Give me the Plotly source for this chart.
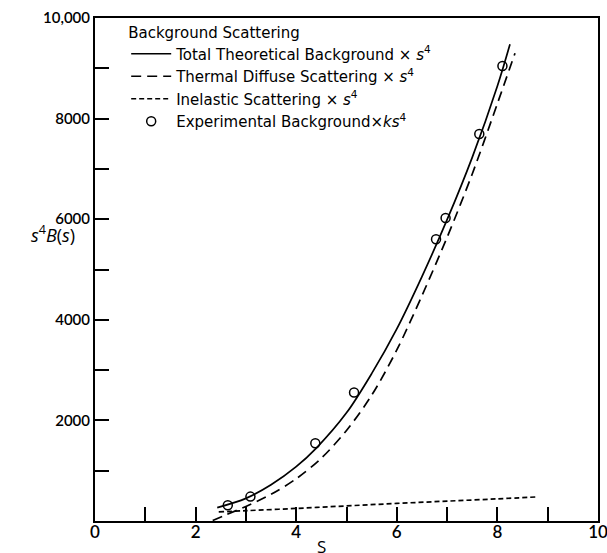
import plotly.graph_objects as go

# Total theoretical background x s^4 (solid)
total_s = [2.43, 3.0, 3.5, 4.0, 4.4, 5.0, 5.5, 6.0, 6.5, 7.0, 7.5, 8.0, 8.25]
total_y = [266, 450, 720, 1080, 1450, 2150, 2930, 3820, 4860, 5990, 7230, 8650, 9480]

# Thermal diffuse scattering x s^4 (long dash)
thermal_s = [2.34, 2.6, 3.0, 3.5, 4.0, 4.5, 5.0, 5.5, 6.0, 6.5, 7.0, 7.5, 8.0, 8.35]
thermal_y = [10, 120, 290, 530, 840, 1250, 1800, 2500, 3400, 4480, 5640, 6900, 8300, 9300]

# Inelastic scattering x s^4 (short dash)
inel_s = [2.46, 3.0, 4.0, 5.0, 6.0, 7.0, 8.0, 8.8]
inel_y = [180, 205, 250, 300, 350, 395, 440, 480]

# Experimental background x k s^4 (circles)
exp_s = [2.64, 3.09, 4.38, 5.15, 6.78, 6.97, 7.64, 8.10]
exp_y = [312, 485, 1545, 2553, 5600, 6024, 7694, 9046]

x_tickvals = list(range(0, 11))
x_ticktext = ["0", "", "2", "", "4", "", "6", "", "8", "", "10"]
y_tickvals = list(range(0, 10001, 1000))
y_ticktext = ["", "", "2000", "", "4000", "", "6000", "", "8000", "", "10,000"]

FONT = "DejaVu Sans"
TICKFONT = "Lato"

fig = go.Figure()
fig.add_trace(go.Scatter(
    x=total_s, y=total_y, mode="lines",
    line=dict(color="black", width=1.7, shape="spline", smoothing=0.9),
    name="Total Theoretical Background × <i>s</i><sup>4</sup>"))
fig.add_trace(go.Scatter(
    x=thermal_s, y=thermal_y, mode="lines",
    line=dict(color="black", width=1.7, shape="spline", smoothing=0.9, dash="10px,6px"),
    name="Thermal Diffuse Scattering × <i>s</i><sup>4</sup>"))
fig.add_trace(go.Scatter(
    x=inel_s, y=inel_y, mode="lines",
    line=dict(color="black", width=1.7, shape="spline", dash="5px,3px"),
    name="Inelastic Scattering × <i>s</i><sup>4</sup>"))
fig.add_trace(go.Scatter(
    x=exp_s, y=exp_y, mode="markers",
    marker=dict(symbol="circle-open", size=9, color="black", line=dict(width=1.5, color="black")),
    name="Experimental Background×<i>ks</i><sup>4</sup>"))

fig.update_layout(
    width=607, height=553,
    margin=dict(l=95, r=9, t=18, b=32),
    paper_bgcolor="white", plot_bgcolor="white",
    font=dict(family=FONT, color="black", size=15),
    showlegend=True,
    legend=dict(
        x=0.062, y=1.0, xanchor="left", yanchor="top",
        bgcolor="rgba(0,0,0,0)",
        itemwidth=40,
        font=dict(family=FONT, size=15, color="black"),
        title=dict(text="Background Scattering", font=dict(family=FONT, size=15, color="black")),
        tracegroupgap=0,
    ),
    xaxis=dict(
        range=[0, 10], tickvals=x_tickvals, ticktext=x_ticktext,
        ticks="inside", ticklen=14, tickwidth=1.5, tickcolor="black",
        showline=True, linecolor="black", linewidth=2, mirror=True,
        showgrid=False, zeroline=False, automargin=False,
        ticklabelstandoff=-5, ticklabeloverflow="allow",
        tickfont=dict(family=TICKFONT, size=17, color="black", weight=600),
    ),
    yaxis=dict(
        range=[0, 10000], tickvals=y_tickvals, ticktext=y_ticktext,
        ticks="inside", ticklen=14, tickwidth=1.5, tickcolor="black",
        showline=True, linecolor="black", linewidth=2, mirror=True,
        showgrid=False, zeroline=False, automargin=False,
        ticklabeloverflow="allow",
        tickfont=dict(family=TICKFONT, size=15, color="black", weight=600),
    ),
    annotations=[
        dict(text="<i>s</i><sup>4</sup><i>B</i>(<i>s</i>)", xref="paper", yref="paper",
             x=-0.083, y=0.571, xanchor="center", yanchor="middle", showarrow=False,
             font=dict(family="Open Sans", size=18, color="black")),
        dict(text="S", xref="paper", yref="paper",
             x=0.451, y=-0.024, xanchor="center", yanchor="top", showarrow=False,
             font=dict(family="Open Sans", size=17, color="black")),
    ],
)

fig.write_html("out.html", config={"displayModeBar": False},
               post_script="document.body.style.margin='0';")
